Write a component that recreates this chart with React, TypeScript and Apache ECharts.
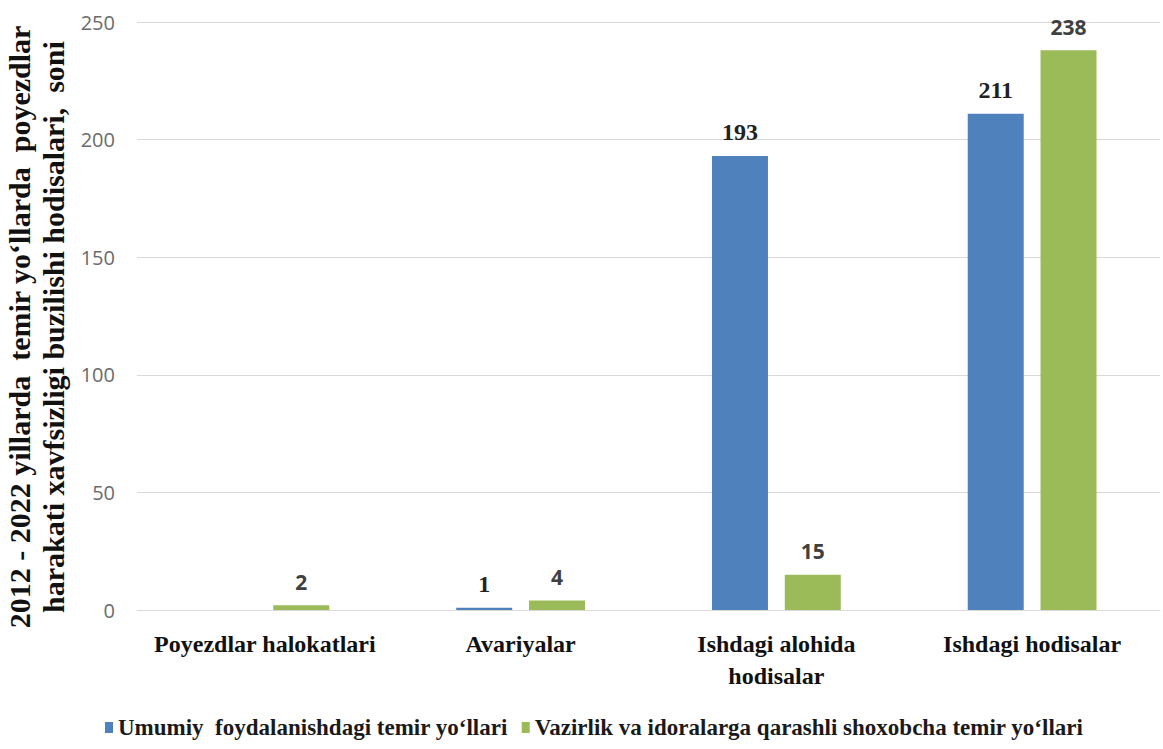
import React, { useEffect, useRef } from "react";
import * as echarts from "echarts";

const categories = ["Poyezdlar halokatlari", "Avariyalar", "Ishdagi alohida\nhodisalar", "Ishdagi hodisalar"];
const seriesNames = ["Umumiy  foydalanishdagi temir yo‘llari", "Vazirlik va idoralarga qarashli shoxobcha temir yo‘llari"];
const blueValues: (number | null)[] = [null, 1, 193, 211];
const greenValues: number[] = [2, 4, 15, 238];
const yTicks = { min: 0, max: 250, interval: 50 };
const yAxisTitle = "2012 - 2022 yillarda  temir yo‘llarda  poyezdlar\nharakati xavfsizligi buzilishi hodisalari,  soni";

const SERIF = "'Liberation Serif', 'Times New Roman', 'DejaVu Serif', serif";
const SANS = "'Open Sans', 'Liberation Sans', sans-serif";

export default function App() {
  const ref = useRef<HTMLDivElement>(null);
  useEffect(() => {
    if (!ref.current) return;
    const chart = echarts.init(ref.current, null, { renderer: "svg" });
    chart.setOption({
      animation: false,
      backgroundColor: "#ffffff",
      grid: { left: 137, right: 3, top: 22, bottom: 139, containLabel: false },
      legend: {
        bottom: 5,
        left: 100,
        itemWidth: 8,
        itemHeight: 11,
        itemGap: 14,
        icon: "rect",
        textStyle: { fontFamily: SERIF, fontWeight: "bold", fontSize: 23, color: "#1a1a1a" },
        data: seriesNames,
      },
      graphic: [
        {
          type: "text",
          x: 36,
          y: 327,
          rotation: Math.PI / 2,
          style: {
            text: yAxisTitle,
            fontFamily: SERIF,
            fontWeight: "bold",
            fontSize: 30,
            lineHeight: 34,
            fill: "#111111",
            align: "center",
            verticalAlign: "middle",
          },
        },
      ],
      xAxis: {
        type: "category",
        data: categories,
        axisLine: { lineStyle: { color: "#d9d9d9" } },
        axisTick: { show: false },
        axisLabel: {
          fontFamily: SERIF,
          fontWeight: "bold",
          fontSize: 24,
          color: "#111111",
          margin: 18,
          lineHeight: 32,
          interval: 0,
        },
      },
      yAxis: {
        type: "value",
        min: yTicks.min,
        max: yTicks.max,
        interval: yTicks.interval,
        axisLine: { show: false },
        axisTick: { show: false },
        splitLine: { lineStyle: { color: "#d9d9d9" } },
        axisLabel: { fontFamily: SANS, fontSize: 20, color: "#6b6b6b", margin: 22 },
      },
      series: [
        {
          name: seriesNames[0],
          type: "bar",
          data: blueValues,
          barWidth: 56,
          barGap: "30%",
          itemStyle: { color: "#4F81BD" },
          label: {
            show: true,
            position: "top",
            distance: 12,
            fontFamily: SERIF,
            fontWeight: "bold",
            fontSize: 24,
            color: "#222222",
          },
        },
        {
          name: seriesNames[1],
          type: "bar",
          data: greenValues,
          barWidth: 56,
          barGap: "30%",
          itemStyle: { color: "#9BBB59" },
          label: {
            show: true,
            position: "top",
            distance: 13,
            fontFamily: SANS,
            fontWeight: "bold",
            fontSize: 21,
            color: "#404040",
          },
        },
      ],
    });
    return () => chart.dispose();
  }, []);
  return <div ref={ref} style={{ position: "fixed", left: 0, top: 0, width: 1163, height: 749 }} />;
}
